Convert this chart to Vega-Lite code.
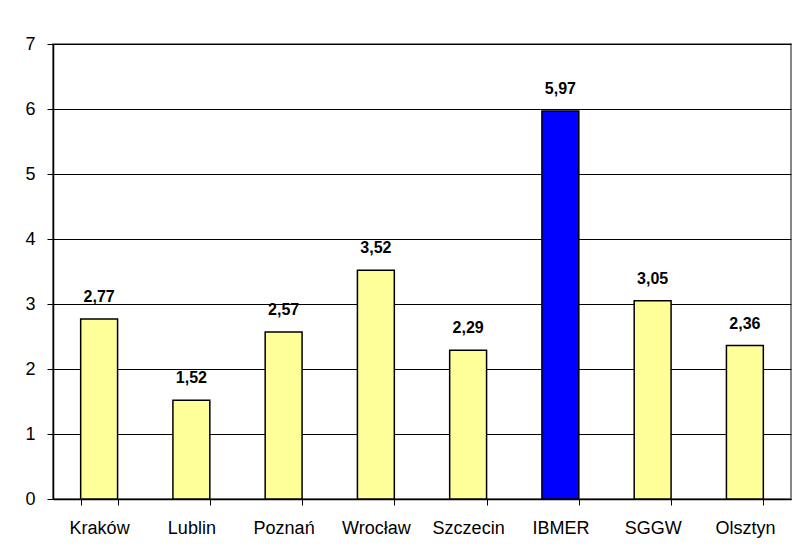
{
  "$schema": "https://vega.github.io/schema/vega-lite/v6.json",
  "autosize": {"type": "none"},
  "width": 738,
  "height": 455,
  "padding": {"left": 53, "top": 44, "right": 5, "bottom": 57},
  "background": "white",
  "config": {
    "font": "Liberation Sans",
    "locale": {"number": {"decimal": ",", "thousands": " ", "grouping": [3], "currency": ["", " zł"]}},
    "view": {"stroke": "#888888", "strokeWidth": 2}
  },
  "data": {
    "values": [
      {"city": "Kraków", "value": 2.77, "group": "other"},
      {"city": "Lublin", "value": 1.52, "group": "other"},
      {"city": "Poznań", "value": 2.57, "group": "other"},
      {"city": "Wrocław", "value": 3.52, "group": "other"},
      {"city": "Szczecin", "value": 2.29, "group": "other"},
      {"city": "IBMER", "value": 5.97, "group": "IBMER"},
      {"city": "SGGW", "value": 3.05, "group": "other"},
      {"city": "Olsztyn", "value": 2.36, "group": "other"}
    ]
  },
  "encoding": {
    "x": {
      "field": "city", "type": "nominal", "sort": null,
      "scale": {"paddingInner": 0.6, "paddingOuter": 0.3},
      "axis": {
        "title": null, "labelAngle": 0, "labelFontSize": 18, "labelColor": "black",
        "labelPadding": 14, "domainColor": "black", "domainWidth": 1.5,
        "tickColor": "black", "tickSize": 6, "tickBand": "extent", "grid": false
      }
    },
    "y": {
      "field": "value", "type": "quantitative",
      "scale": {"domain": [0, 7], "nice": false},
      "axis": {
        "title": null, "values": [0, 1, 2, 3, 4, 5, 6, 7], "labelFontSize": 18, "labelColor": "black",
        "labelPadding": 12, "domainColor": "black", "domainWidth": 1.5,
        "tickColor": "black", "tickSize": 6, "gridColor": "black", "gridOpacity": 1, "gridWidth": 1
      }
    }
  },
  "layer": [
    {
      "mark": {"type": "bar", "stroke": "black", "strokeWidth": 1.5},
      "encoding": {
        "color": {
          "field": "group", "type": "nominal",
          "scale": {"domain": ["other", "IBMER"], "range": ["#FFFF99", "#0000FF"]},
          "legend": null
        }
      }
    },
    {
      "mark": {"type": "text", "fontWeight": "bold", "fontSize": 16, "baseline": "bottom", "dy": -14, "color": "black"},
      "encoding": {
        "text": {"field": "value", "type": "quantitative", "format": ".2f"}
      }
    }
  ]
}
